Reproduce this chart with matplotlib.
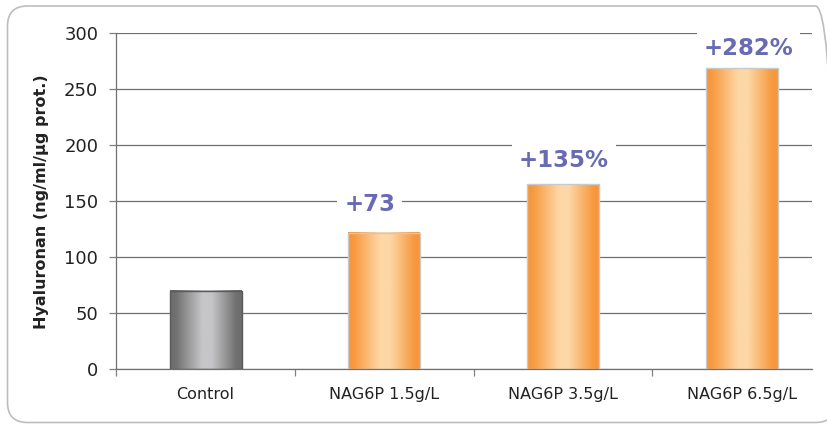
import numpy as np
import matplotlib as mpl
mpl.use("Agg")
import matplotlib.pyplot as plt
from matplotlib.patches import FancyBboxPatch

# data
categories = ["Control", "NAG6P 1.5g/L", "NAG6P 3.5g/L", "NAG6P 6.5g/L"]
values = [70, 122, 165, 269]
increase_labels = ["", "+73", "+135%", "+282%"]
y_ticks = [0, 50, 100, 150, 200, 250, 300]

plt.rcParams['font.family'] = ['DejaVu Sans']

fig = plt.figure(figsize=(8.27, 4.24), dpi=100)
ax = fig.add_axes([0.1406, 0.1297, 0.8413, 0.7915])

# rounded frame round the chart (right side cut off, like the reference)
frame = FancyBboxPatch((7.5, 1.5), 828, 416.5, boxstyle="round,pad=0,rounding_size=20",
                       transform=mpl.transforms.IdentityTransform(),
                       facecolor='none', edgecolor='#BDBDBD', linewidth=1.2)
fig.patches.append(frame)


def gradient_rgb(edge, light, n=200):
    # horizontal cylinder-like shading: dark edge -> light middle -> dark edge
    t = np.linspace(0, 1, n)
    k = np.interp(t, [0, 0.08, 0.45, 0.58, 0.92, 1], [0, 0.05, 1, 1, 0.05, 0])
    edge = np.array(mpl.colors.to_rgb(edge))
    light = np.array(mpl.colors.to_rgb(light))
    row = edge[None, :] * (1 - k[:, None]) + light[None, :] * k[:, None]
    return row[None, :, :]


x = np.arange(len(categories))
bar_styles = [("#6C6C6C", "#C6C6C8", "#5A5A5A")] + [("#F7963A", "#FDD8A6", "#C9C9C9")] * 3

bars = ax.bar(x, values, width=0.402, facecolor='none', zorder=3)
for bar, (edge, light, outline) in zip(bars, bar_styles):
    x0, w, h = bar.get_x(), bar.get_width(), bar.get_height()
    ax.imshow(gradient_rgb(edge, light), extent=[x0, x0 + w, 0, h],
              aspect='auto', interpolation='bilinear', zorder=2)
    bar.set_edgecolor(outline)
    bar.set_linewidth(1.0)

# labels above the bars, white box hides the gridline behind them
offsets = [(0, 0), (-10.5, 15.5), (0.7, 12.5), (5.0, 9.6)]
for i, (lab, off) in enumerate(zip(increase_labels, offsets)):
    if not lab:
        continue
    ax.annotate(lab, xy=(x[i], values[i]), xytext=off, textcoords='offset points',
                ha='center', va='baseline', fontsize=16.5, fontweight='bold',
                color='#686BB4', zorder=5,
                bbox=dict(boxstyle='square,pad=0.3', facecolor='white', edgecolor='none'))

ax.set_xlim(-0.5, 3.394)
ax.set_ylim(0, 300)
ax.set_yticks(y_ticks)
ax.tick_params(axis='y', labelsize=13, length=5, width=0.9, color='#808080',
               pad=8, labelcolor='#222222')

ax.set_xticks(x)
ax.set_xticklabels(categories)
ax.set_xticks([-0.5, 0.5, 1.5, 2.5], minor=True)
ax.tick_params(axis='x', which='major', length=0, labelsize=11.5, pad=13,
               labelcolor='#222222')
ax.tick_params(axis='x', which='minor', length=5, width=0.9, color='#808080')

ax.grid(axis='y', color='#707070', linewidth=0.9)
ax.set_axisbelow(True)
for side in ['top', 'right']:
    ax.spines[side].set_visible(False)
for side in ['left', 'bottom']:
    ax.spines[side].set_color('#707070')
    ax.spines[side].set_linewidth(0.9)

ax.set_ylabel("Hyaluronan (ng/ml/µg prot.)", fontsize=11.5, fontweight='bold', color='#222222')
ax.yaxis.set_label_coords(-0.097, 0.5)

fig.savefig("out.png", dpi=100)
